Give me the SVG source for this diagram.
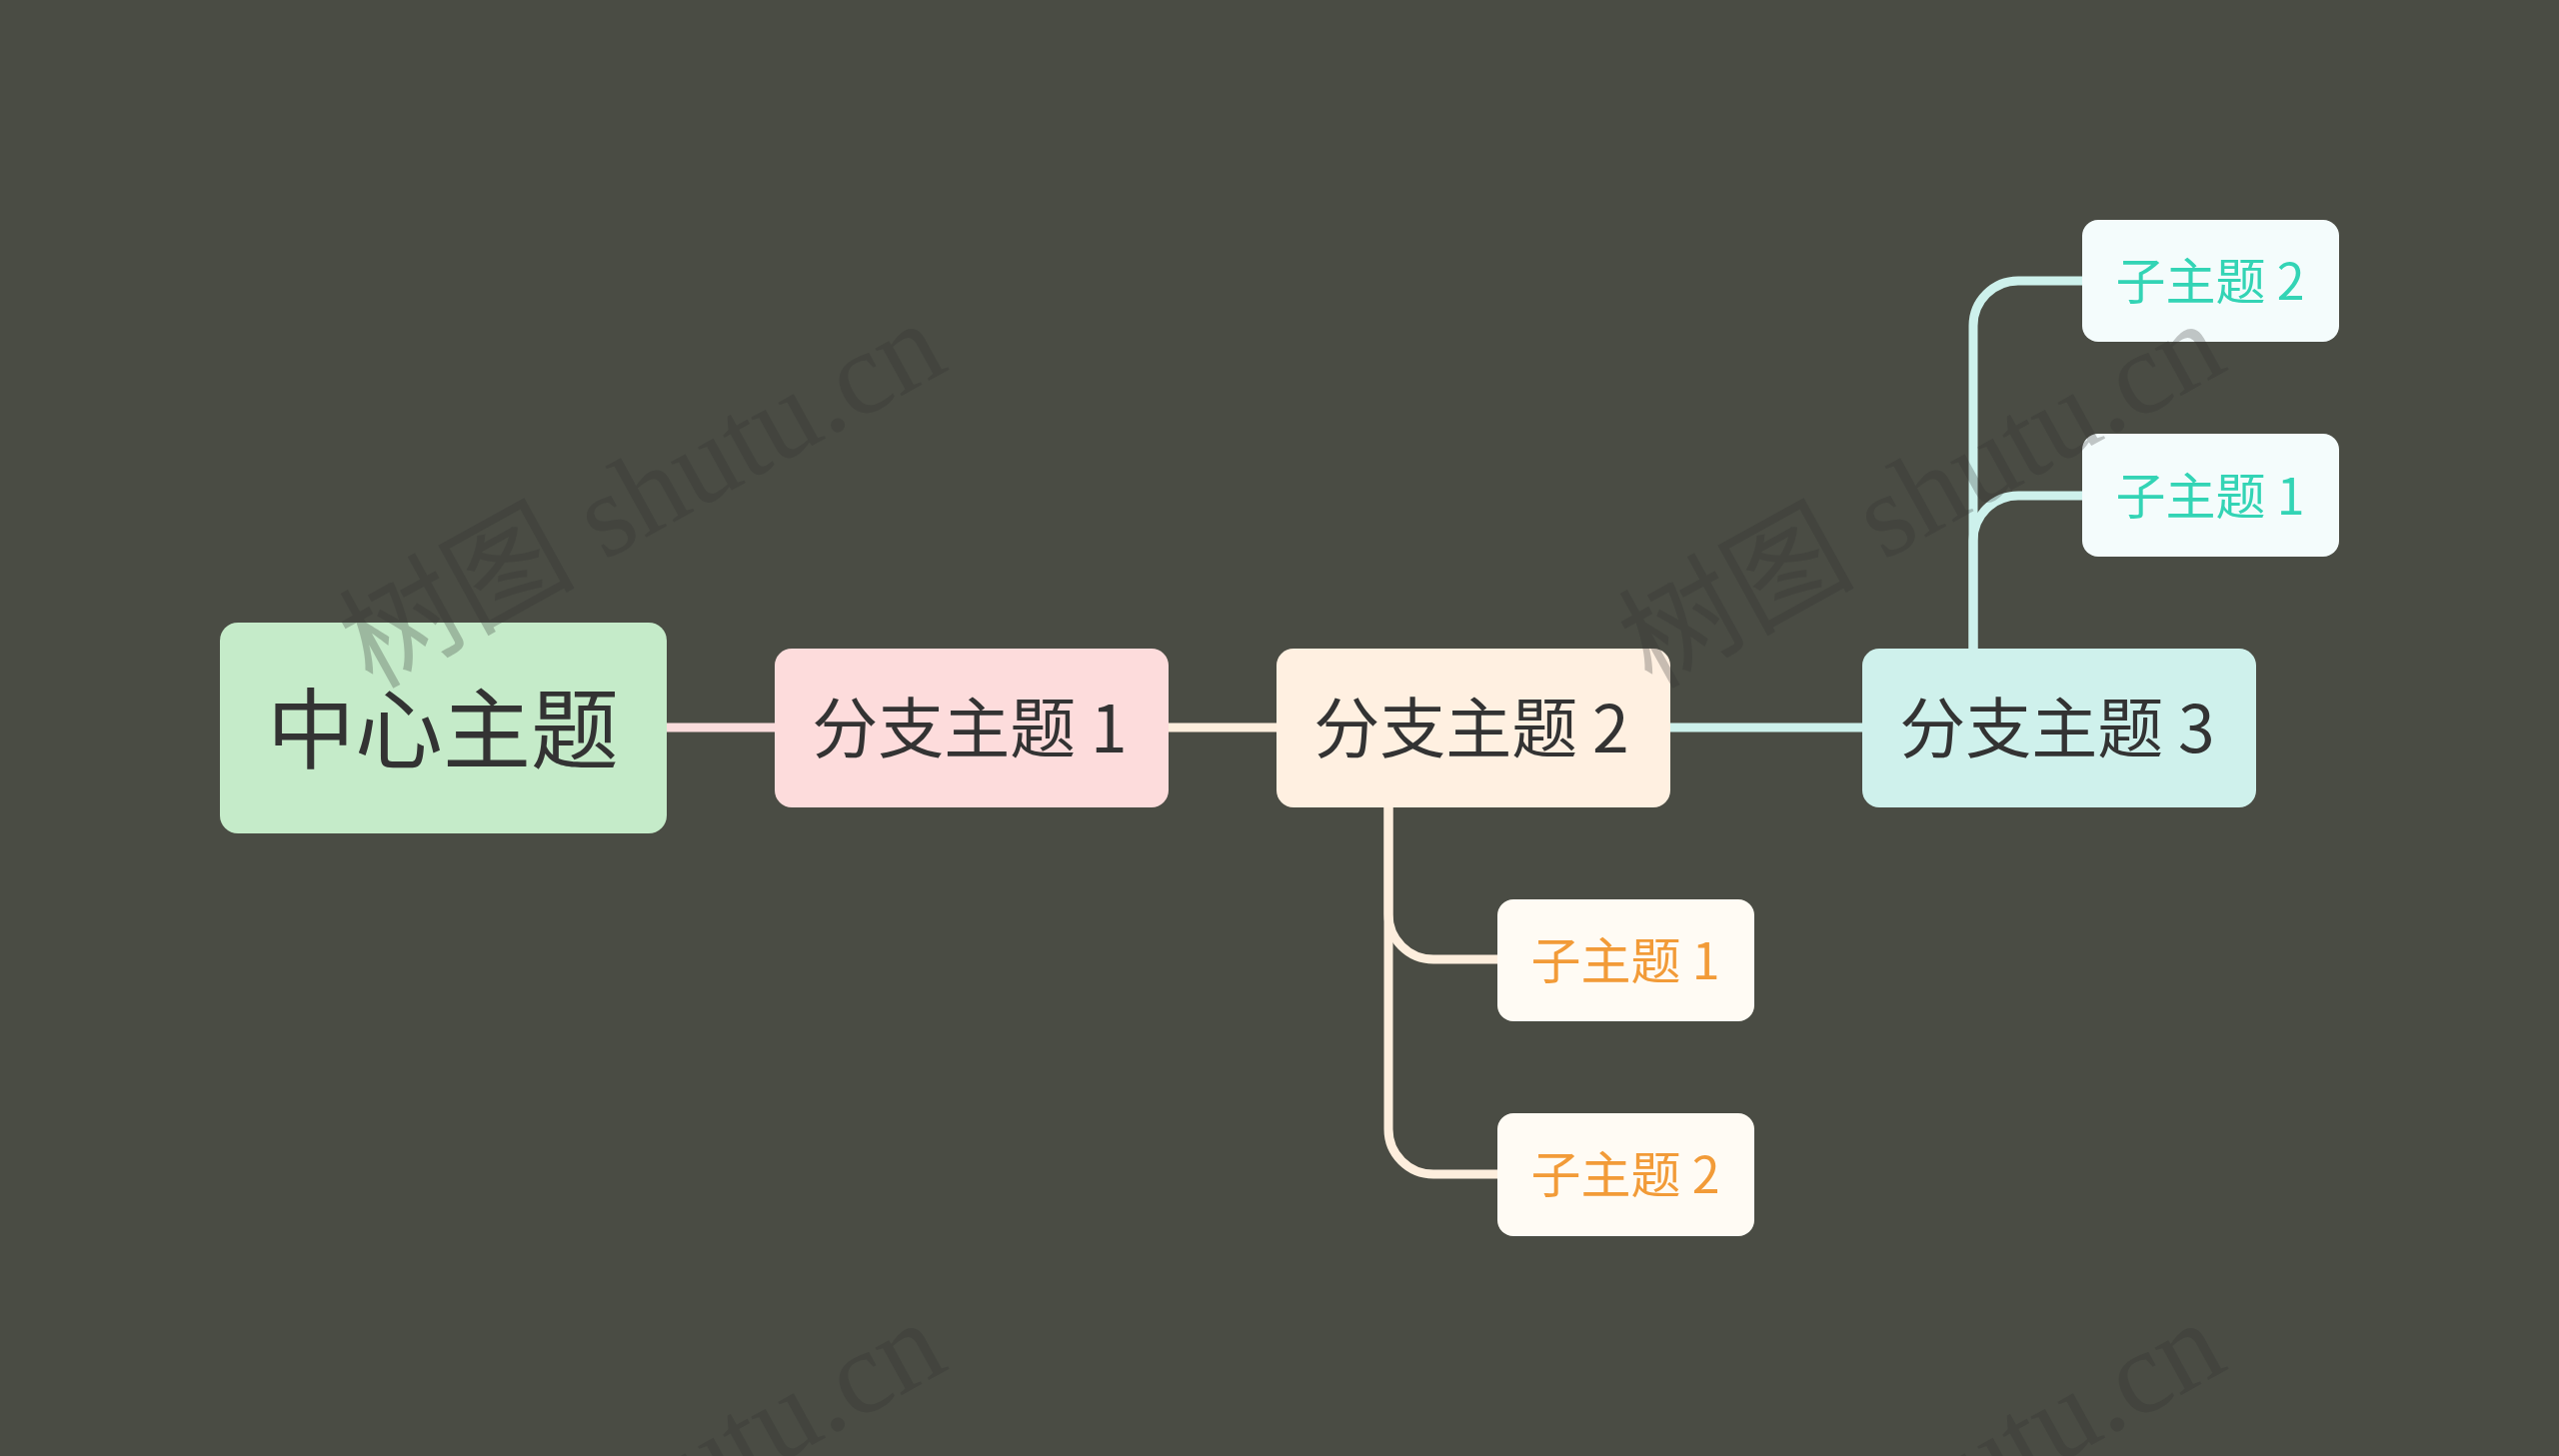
<svg xmlns="http://www.w3.org/2000/svg" width="2560" height="1457" viewBox="0 0 2560 1457">
<style>
.t{font-family:"Noto Sans CJK SC","Noto Sans",sans-serif;text-anchor:middle;dominant-baseline:central}
.main{font-size:88px;fill:#333333}
.br{font-size:66px;fill:#333333}
.sub{font-size:50px}
.or{fill:#f29b38}
.tl{fill:#33d4b5}
.ln{fill:none;stroke-width:9;stroke-linecap:butt}
.wm{font-family:"Liberation Serif","Noto Sans CJK SC",serif;font-size:118px;fill:#303030;fill-opacity:0.27}
</style>
<rect x="0" y="0" width="2560" height="1457" fill="#4a4c44"/>
<g id="connectors">
<path class="ln" stroke="#fadcdc" d="M666 728 H775"/>
<path class="ln" stroke="#fdeedd" d="M1169 728 H1277"/>
<path class="ln" stroke="#cdf1ec" d="M1671 728 H1863"/>
<path class="ln" stroke="#fdeedd" d="M1389 808 V915 A45 45 0 0 0 1434 960 H1498"/>
<path class="ln" stroke="#fdeedd" d="M1389 808 V1130 A45 45 0 0 0 1434 1175 H1498"/>
<path class="ln" stroke="#cdf1ec" d="M1974 649 V541 A45 45 0 0 1 2019 496 H2083"/>
<path class="ln" stroke="#cdf1ec" d="M1974 649 V326 A45 45 0 0 1 2019 281 H2083"/>
</g>
<g id="center">
<rect x="220" y="623" width="447" height="211" rx="18" fill="#c5ebc9"/>
<text class="t main" x="443" y="723">中心主题</text>
</g>
<g id="branch1">
<rect x="775" y="649" width="394" height="159" rx="17" fill="#fddcdc"/>
<text class="t br" x="970" y="724">分支主题 1</text>
</g>
<g id="branch2">
<rect x="1277" y="649" width="394" height="159" rx="17" fill="#fff0e1"/>
<text class="t br" x="1472" y="724">分支主题 2</text>
</g>
<g id="branch3">
<rect x="1863" y="649" width="394" height="159" rx="17" fill="#cff1ec"/>
<text class="t br" x="2058" y="724">分支主题 3</text>
</g>
<g id="b2sub1">
<rect x="1498" y="900" width="257" height="122" rx="16" fill="#fffbf4"/>
<text class="t sub or" x="1626" y="958">子主题 1</text>
</g>
<g id="b2sub2">
<rect x="1498" y="1114" width="257" height="123" rx="16" fill="#fffbf4"/>
<text class="t sub or" x="1626" y="1172">子主题 2</text>
</g>
<g id="b3sub2">
<rect x="2083" y="220" width="257" height="122" rx="16" fill="#f4fcfc"/>
<text class="t sub tl" x="2211" y="278">子主题 2</text>
</g>
<g id="b3sub1">
<rect x="2083" y="434" width="257" height="123" rx="16" fill="#f4fcfc"/>
<text class="t sub tl" x="2211" y="493">子主题 1</text>
</g>
<g id="watermarks">
<text class="wm" transform="translate(372 690) rotate(-29)">树图 shutu.cn</text>
<text class="wm" transform="translate(1652 690) rotate(-29)">树图 shutu.cn</text>
<text class="wm" transform="translate(372 1690) rotate(-29)">树图 shutu.cn</text>
<text class="wm" transform="translate(1652 1690) rotate(-29)">树图 shutu.cn</text>
</g>
</svg>
